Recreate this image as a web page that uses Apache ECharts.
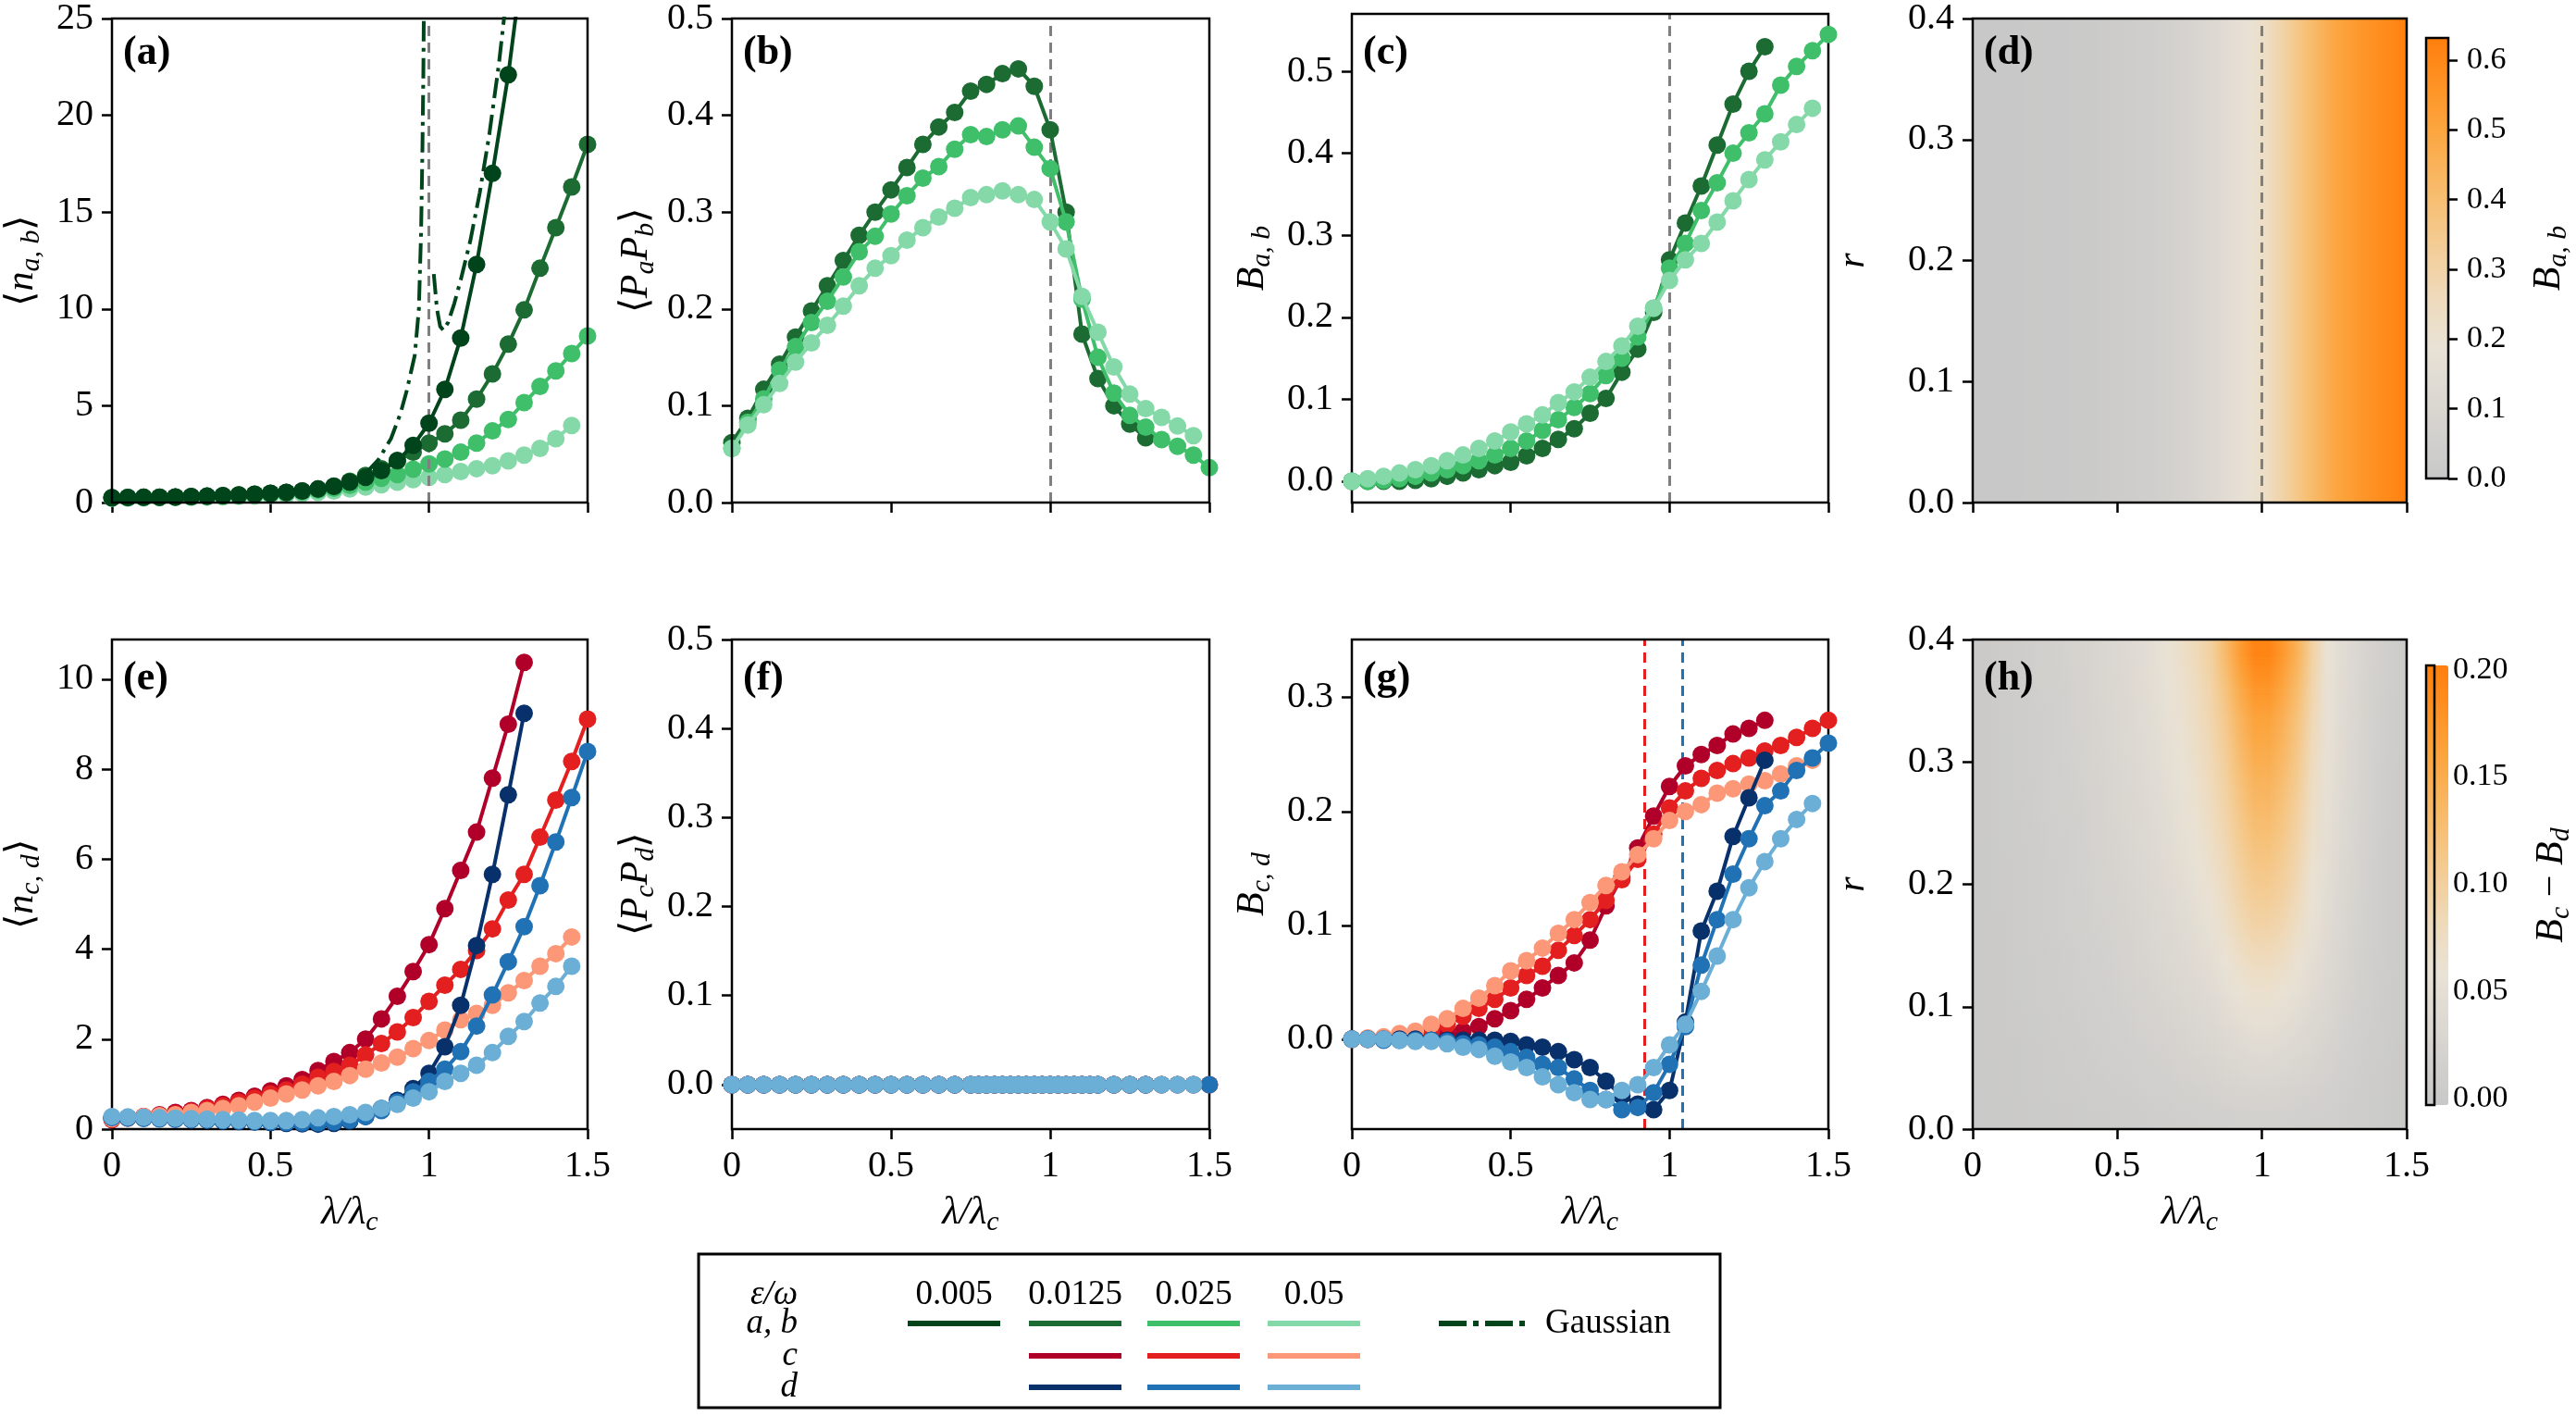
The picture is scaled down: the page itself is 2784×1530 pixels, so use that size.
<!DOCTYPE html>
<html>
<head>
<meta charset="utf-8">
<script src="https://cdn.jsdelivr.net/npm/echarts@6/dist/echarts.min.js"></script>
<style>
  html, body { margin: 0; padding: 0; background: #fff; }
  #main { width: 2784px; height: 1530px; }
</style>
</head>
<body>
<div id="main"></div>
<script>
const FONT = "'Liberation Serif', 'Times New Roman', serif";
const TICK_FS = 40;

// lambda / lambda_c grid used by the curves
const lam = [0, 0.05, 0.1, 0.15, 0.2, 0.25, 0.3, 0.35, 0.4, 0.45, 0.5, 0.55, 0.6, 0.65, 0.7, 0.75,
  0.8, 0.85, 0.9, 0.95, 1, 1.05, 1.1, 1.15, 1.2, 1.25, 1.3, 1.35, 1.4, 1.45, 1.5];

// (a) <n_a,b>
const na_005 = [0.25, 0.26, 0.27, 0.28, 0.29, 0.31, 0.33, 0.36, 0.39, 0.43, 0.48, 0.53, 0.60, 0.70, 0.84, 1.05,
  1.30, 1.65, 2.17, 2.95, 4.10, 5.84, 8.50, 12.3, 17.0, 22.1, 28.5];
const na_0125 = [0.25, 0.26, 0.27, 0.28, 0.29, 0.31, 0.33, 0.36, 0.39, 0.43, 0.48, 0.53, 0.60, 0.70, 0.85, 1.10,
  1.40, 1.75, 2.15, 2.60, 3.07, 3.55, 4.25, 5.34, 6.64, 8.18, 9.95, 12.1, 14.2, 16.3, 18.5];
const na_025 = [0.25, 0.26, 0.27, 0.28, 0.29, 0.30, 0.32, 0.34, 0.37, 0.41, 0.45, 0.50, 0.56, 0.64, 0.74, 0.88,
  1.05, 1.25, 1.45, 1.72, 2.00, 2.25, 2.60, 3.07, 3.70, 4.29, 5.16, 6.00, 6.80, 7.70, 8.60];
const na_05 = [0.22, 0.23, 0.24, 0.25, 0.26, 0.27, 0.28, 0.30, 0.32, 0.34, 0.37, 0.41, 0.46, 0.52, 0.60, 0.70,
  0.80, 0.92, 1.05, 1.18, 1.30, 1.45, 1.60, 1.75, 1.90, 2.15, 2.45, 2.80, 3.30, 3.98];
const gaussLeft = [[0.80, 1.5], [0.84, 2.2], [0.88, 3.3], [0.91, 4.6], [0.93, 5.8], [0.955, 7.6], [0.968, 10],
  [0.975, 14], [0.979, 18], [0.982, 22], [0.984, 26]];
const gaussRight = [[1.015, 11.8], [1.025, 10.0], [1.035, 9.1], [1.045, 8.9], [1.06, 9.3], [1.08, 10.3], [1.1, 11.5],
  [1.13, 13.5], [1.16, 16.0], [1.19, 19.0], [1.22, 22.6], [1.24, 25.5]];

// (b) <P_a P_b>
const pab_0125 = [0.062, 0.087, 0.117, 0.143, 0.171, 0.198, 0.224, 0.25, 0.276, 0.3, 0.323, 0.346, 0.37, 0.388,
  0.403, 0.425, 0.432, 0.443, 0.448, 0.43, 0.385, 0.3, 0.174, 0.128, 0.1, 0.081, 0.067];
const pab_025 = [0.056, 0.083, 0.107, 0.137, 0.161, 0.186, 0.208, 0.233, 0.259, 0.275, 0.298, 0.317, 0.335, 0.347,
  0.365, 0.38, 0.378, 0.385, 0.389, 0.367, 0.345, 0.29, 0.21, 0.15, 0.113, 0.09, 0.078, 0.065, 0.058, 0.049, 0.036];
const pab_05 = [0.056, 0.08, 0.101, 0.123, 0.145, 0.165, 0.183, 0.203, 0.224, 0.242, 0.255, 0.271, 0.284, 0.295,
  0.304, 0.315, 0.318, 0.322, 0.318, 0.313, 0.29, 0.262, 0.213, 0.176, 0.14, 0.112, 0.097, 0.088, 0.079, 0.069];

// (c) B_a,b
const bab_0125 = [0, 0, 0, 0, 0.001, 0.003, 0.006, 0.01, 0.014, 0.019, 0.023, 0.031, 0.04, 0.051, 0.064, 0.083,
  0.101, 0.133, 0.161, 0.206, 0.27, 0.315, 0.36, 0.41, 0.46, 0.5, 0.53];
const bab_025 = [0, 0, 0.001, 0.003, 0.006, 0.01, 0.014, 0.019, 0.025, 0.032, 0.04, 0.049, 0.062, 0.075, 0.09,
  0.107, 0.129, 0.15, 0.176, 0.211, 0.26, 0.29, 0.33, 0.364, 0.4, 0.425, 0.448, 0.483, 0.506, 0.525, 0.545];
const bab_05 = [0, 0.003, 0.006, 0.01, 0.014, 0.019, 0.025, 0.032, 0.04, 0.049, 0.06, 0.07, 0.081, 0.096, 0.109,
  0.127, 0.146, 0.165, 0.189, 0.211, 0.245, 0.27, 0.29, 0.316, 0.342, 0.368, 0.392, 0.414, 0.435, 0.455];

// (d) B_a,b map: one band covering all r, sampled along lambda
const dX = [0.0125, 0.0375, 0.0625, 0.0875, 0.1125, 0.1375, 0.1625, 0.1875, 0.2125, 0.2375, 0.2625, 0.2875,
  0.3125, 0.3375, 0.3625, 0.3875, 0.4125, 0.4375, 0.4625, 0.4875, 0.5125, 0.5375, 0.5625, 0.5875, 0.6125, 0.6375,
  0.6625, 0.6875, 0.7125, 0.7375, 0.7625, 0.7875, 0.8125, 0.8375, 0.8625, 0.8875, 0.9125, 0.9375, 0.9625, 0.9875,
  1.0125, 1.0375, 1.0625, 1.0875, 1.1125, 1.1375, 1.1625, 1.1875, 1.2125, 1.2375, 1.2625, 1.2875, 1.3125, 1.3375,
  1.3625, 1.3875, 1.4125, 1.4375, 1.4625, 1.4875];
const dR = [0.2];
const dBand = 0.4;
const dVals = [0.000, 0.000, 0.001, 0.001, 0.002, 0.002, 0.003, 0.004, 0.005, 0.006,
  0.007, 0.008, 0.010, 0.011, 0.013, 0.015, 0.017, 0.019, 0.022, 0.025,
  0.028, 0.031, 0.035, 0.040, 0.045, 0.050, 0.056, 0.063, 0.070, 0.078,
  0.087, 0.097, 0.108, 0.120, 0.133, 0.147, 0.162, 0.178, 0.195, 0.213,
  0.235, 0.262, 0.290, 0.320, 0.348, 0.375, 0.400, 0.430, 0.455, 0.480,
  0.500, 0.515, 0.530, 0.545, 0.558, 0.570, 0.582, 0.595, 0.608, 0.622];

// (e) <n_c,d>
const nc_0125 = [0.21, 0.25, 0.28, 0.32, 0.37, 0.41, 0.48, 0.55, 0.64, 0.73, 0.85, 0.96, 1.1, 1.3, 1.5, 1.7, 2.0,
  2.45, 2.95, 3.5, 4.1, 4.9, 5.75, 6.6, 7.8, 9.0, 10.37];
const nc_025 = [0.23, 0.25, 0.28, 0.3, 0.34, 0.39, 0.46, 0.52, 0.6, 0.69, 0.78, 0.87, 1.0, 1.15, 1.28, 1.42, 1.65,
  1.9, 2.16, 2.48, 2.84, 3.2, 3.55, 3.97, 4.45, 5.09, 5.66, 6.49, 7.31, 8.17, 9.11];
const nc_05 = [0.23, 0.25, 0.28, 0.3, 0.32, 0.37, 0.41, 0.46, 0.52, 0.6, 0.69, 0.78, 0.87, 0.96, 1.06, 1.19, 1.33,
  1.47, 1.6, 1.79, 1.97, 2.2, 2.43, 2.57, 2.75, 3.03, 3.3, 3.62, 3.9, 4.27];
const nd_0125 = [0.26, 0.25, 0.24, 0.23, 0.22, 0.21, 0.2, 0.18, 0.17, 0.16, 0.15, 0.13, 0.12, 0.11, 0.13, 0.18,
  0.28, 0.46, 0.64, 0.9, 1.24, 1.83, 2.75, 4.08, 5.66, 7.43, 9.24];
const nd_025 = [0.26, 0.25, 0.24, 0.23, 0.22, 0.21, 0.2, 0.19, 0.18, 0.17, 0.16, 0.15, 0.14, 0.14, 0.16, 0.2, 0.28,
  0.41, 0.6, 0.83, 1.06, 1.33, 1.72, 2.29, 2.98, 3.72, 4.5, 5.41, 6.38, 7.37, 8.39];
const nd_05 = [0.28, 0.27, 0.26, 0.25, 0.24, 0.23, 0.22, 0.21, 0.2, 0.19, 0.19, 0.19, 0.21, 0.25, 0.28, 0.32, 0.37,
  0.46, 0.55, 0.69, 0.83, 1.06, 1.24, 1.42, 1.7, 2.06, 2.39, 2.8, 3.17, 3.62];

// (f) <P_c P_d>: finer lambda grid, all values zero
const fX = [0, 0.05, 0.1, 0.15, 0.2, 0.25, 0.3, 0.35, 0.4, 0.45, 0.5, 0.55, 0.6, 0.65, 0.7, 0.75, 0.775, 0.8,
  0.825, 0.85, 0.875, 0.9, 0.925, 0.95, 0.975, 1, 1.025, 1.05, 1.075, 1.1, 1.125, 1.15, 1.2, 1.25, 1.3, 1.35, 1.4,
  1.45, 1.5];
const pcd = [0, 0, 0, 0, 0, 0, 0, 0, 0, 0, 0, 0, 0, 0, 0, 0, 0, 0, 0, 0, 0, 0, 0, 0, 0, 0, 0, 0, 0, 0, 0, 0, 0, 0,
  0, 0, 0, 0, 0];

// (g) B_c,d
const bc_0125 = [0, 0, 0, 0, 0.001, 0.002, 0.005, 0.007, 0.011, 0.018, 0.025, 0.035, 0.045, 0.056, 0.067, 0.087,
  0.117, 0.142, 0.168, 0.196, 0.222, 0.24, 0.25, 0.258, 0.268, 0.273, 0.28];
const bc_025 = [0, 0, 0.001, 0.002, 0.004, 0.007, 0.013, 0.02, 0.027, 0.035, 0.045, 0.056, 0.064, 0.078, 0.091,
  0.105, 0.122, 0.14, 0.158, 0.18, 0.203, 0.218, 0.229, 0.236, 0.242, 0.247, 0.253, 0.258, 0.265, 0.273, 0.28];
const bc_05 = [0, 0.001, 0.002, 0.005, 0.007, 0.013, 0.018, 0.027, 0.036, 0.047, 0.06, 0.069, 0.08, 0.093, 0.105,
  0.12, 0.135, 0.147, 0.162, 0.176, 0.192, 0.2, 0.206, 0.216, 0.22, 0.224, 0.227, 0.233, 0.24, 0.245];
const bd_0125 = [0, 0, 0, 0, 0, -0.001, -0.001, -0.001, -0.001, -0.001, -0.002, -0.005, -0.007, -0.011, -0.018,
  -0.025, -0.037, -0.05, -0.057, -0.062, -0.045, 0.015, 0.095, 0.13, 0.178, 0.212, 0.245];
const bd_025 = [0, 0, -0.001, -0.001, -0.001, -0.001, -0.002, -0.004, -0.005, -0.007, -0.011, -0.016, -0.022,
  -0.025, -0.035, -0.045, -0.053, -0.062, -0.06, -0.047, -0.022, 0.011, 0.065, 0.105, 0.145, 0.176, 0.205, 0.218,
  0.236, 0.247, 0.26];
const bd_05 = [0, 0, 0, -0.001, -0.002, -0.002, -0.004, -0.007, -0.009, -0.015, -0.02, -0.025, -0.033, -0.04,
  -0.047, -0.053, -0.053, -0.045, -0.04, -0.025, -0.005, 0.013, 0.042, 0.073, 0.105, 0.133, 0.156, 0.176, 0.193,
  0.207];
const critical = [0.917, 1.044];

// (h) B_c - B_d map: rows of r (bottom to top), sampled along lambda
const hX = [0.025, 0.075, 0.125, 0.175, 0.225, 0.275, 0.325, 0.375, 0.425, 0.475, 0.525, 0.575, 0.625, 0.675,
  0.725, 0.775, 0.825, 0.875, 0.925, 0.975, 1.025, 1.075, 1.125, 1.175, 1.225, 1.275, 1.325, 1.375, 1.425, 1.475];
const hR = [0.0125, 0.0375, 0.0625, 0.0875, 0.1125, 0.1375, 0.1625, 0.1875, 0.2125, 0.2375, 0.2625, 0.2875,
  0.3125, 0.3375, 0.3625, 0.3875];
const hBand = 0.025;
const hRows = [
  [.000,.001,.001,.002,.003,.003,.004,.005,.006,.007,.008,.009,.010,.011,.012,.013,.015,.016,.017,.018,.018,.017,.016,.014,.012,.010,.008,.005,.003,.001],
  [.001,.001,.002,.003,.004,.005,.006,.007,.008,.010,.011,.013,.015,.016,.018,.020,.022,.025,.027,.028,.028,.026,.024,.021,.018,.014,.011,.007,.004,.002],
  [.001,.002,.002,.003,.004,.006,.007,.008,.010,.012,.014,.016,.018,.020,.023,.026,.029,.033,.037,.040,.040,.037,.033,.028,.023,.018,.013,.009,.005,.002],
  [.001,.002,.003,.004,.005,.007,.008,.010,.012,.014,.016,.019,.021,.024,.027,.031,.035,.041,.047,.051,.051,.047,.042,.035,.028,.022,.016,.011,.006,.003],
  [.001,.002,.003,.005,.006,.008,.010,.012,.014,.016,.019,.022,.025,.028,.032,.036,.042,.050,.059,.065,.065,.060,.051,.041,.033,.025,.018,.012,.007,.003],
  [.001,.002,.004,.005,.007,.009,.011,.013,.016,.018,.021,.024,.028,.032,.036,.041,.048,.058,.070,.079,.079,.072,.060,.047,.037,.028,.020,.013,.008,.003],
  [.001,.002,.004,.006,.008,.010,.012,.015,.017,.020,.023,.027,.031,.035,.040,.046,.055,.067,.082,.092,.092,.084,.070,.053,.041,.031,.022,.015,.008,.004],
  [.001,.003,.004,.006,.008,.010,.013,.016,.019,.022,.025,.029,.033,.038,.044,.051,.061,.075,.092,.104,.104,.095,.080,.058,.044,.033,.024,.016,.009,.004],
  [.001,.003,.004,.006,.009,.011,.014,.017,.020,.023,.027,.031,.036,.041,.048,.056,.067,.082,.100,.113,.113,.103,.086,.062,.047,.035,.025,.016,.009,.004],
  [.002,.003,.005,.007,.009,.012,.014,.017,.021,.024,.028,.032,.038,.044,.051,.060,.073,.088,.108,.123,.123,.111,.093,.067,.049,.037,.026,.017,.009,.004],
  [.002,.003,.005,.007,.010,.012,.015,.018,.022,.026,.030,.034,.040,.046,.054,.064,.078,.094,.116,.133,.133,.119,.099,.071,.051,.038,.027,.018,.010,.004],
  [.002,.003,.005,.008,.010,.013,.016,.019,.023,.027,.031,.036,.042,.049,.057,.068,.082,.100,.124,.143,.143,.128,.106,.075,.053,.040,.028,.018,.010,.004],
  [.002,.003,.005,.008,.011,.014,.017,.020,.024,.028,.033,.038,.044,.051,.060,.072,.086,.106,.133,.153,.153,.137,.113,.080,.055,.041,.029,.019,.011,.005],
  [.002,.004,.006,.008,.011,.014,.017,.021,.025,.029,.034,.040,.046,.054,.063,.075,.090,.113,.142,.163,.163,.145,.120,.085,.056,.042,.030,.020,.011,.005],
  [.002,.004,.006,.009,.012,.015,.018,.022,.026,.030,.035,.041,.048,.056,.066,.078,.094,.122,.155,.178,.178,.158,.130,.090,.057,.043,.031,.020,.012,.005],
  [.002,.004,.006,.009,.012,.015,.019,.023,.027,.031,.036,.042,.050,.059,.070,.083,.100,.133,.170,.196,.195,.172,.142,.096,.058,.044,.032,.021,.012,.005]
];

// tick labels
const xTicks = [0, 0.5, 1, 1.5];
const aTicks = [0, 5, 10, 15, 20, 25];
const bTicks = [0, 0.1, 0.2, 0.3, 0.4, 0.5];
const cTicks = [0, 0.1, 0.2, 0.3, 0.4, 0.5];
const rTicks = [0, 0.1, 0.2, 0.3, 0.4];
const eTicks = [0, 2, 4, 6, 8, 10];
const gTicks = [0, 0.1, 0.2, 0.3];
const dBarTicks = [0, 0.1, 0.2, 0.3, 0.4, 0.5, 0.6];
const hBarTicks = [0, 0.05, 0.1, 0.15, 0.2];
const dRange = [0, 0.632];
const hRange = [-0.003, 0.202];
const epsLabels = ['0.005', '0.0125', '0.025', '0.05'];

const GREEN = ['#00441b', '#1b6b32', '#40bf6b', '#85d9a9'];
const RED = ['#b0002a', '#e3201f', '#fc9777'];
const BLUE = ['#08306b', '#2171b5', '#6baed6'];
const CMAP = ['#c8c8c8', '#d3d1ce', '#ded9d2', '#e9e2d5', '#eedbbe', '#f2d09f', '#f6c37d', '#f9b45d',
  '#fca43d', '#fe9122', '#ff7f0e'];

const RICH = {
  b: { fontFamily: FONT, fontSize: 42, lineHeight: 50, color: '#000' },
  i: { fontFamily: FONT, fontSize: 42, fontStyle: 'italic', lineHeight: 50, color: '#000' },
  s: { fontFamily: FONT, fontSize: 30, fontStyle: 'italic', lineHeight: 22, verticalAlign: 'bottom', color: '#000' }
};

// panel boxes [left, top, width, height]
const boxes = [
  [121, 15, 514, 528], [791, 15, 516, 528], [1461, 15, 515, 528], [2132, 15, 469, 528],
  [121, 691, 514, 529], [791, 691, 516, 529], [1461, 691, 515, 529], [2132, 691, 469, 529]
];
const barBoxes = [[2622, 41, 24, 476], [2622, 719, 24, 475]];

const pts = (xs, ys) => ys.map((y, i) => [xs[i], y]);

const frame = { show: true, borderColor: '#000', borderWidth: 2.5, backgroundColor: 'transparent', z: 10 };
const grid = boxes.concat(barBoxes).map(([l, t, w, h]) => Object.assign({ left: l, top: t, width: w, height: h }, frame));

const tickStyle = { color: '#000', width: 2.5 };

function xAx(gi, labels) {
  return {
    type: 'value', gridIndex: gi, min: 0, max: 1.5,
    axisLine: { show: false, onZero: false }, splitLine: { show: false },
    axisTick: { show: true, length: 11, customValues: xTicks, lineStyle: tickStyle },
    axisLabel: { show: labels, margin: 20, customValues: xTicks, color: '#000', fontFamily: FONT, fontSize: TICK_FS },
    name: labels ? '{i|λ/λ}{s|c}' : '', nameLocation: 'middle', nameGap: 66,
    nameTextStyle: { rich: RICH }
  };
}

function yAx(gi, min, max, ticks, dec, name, gap) {
  return {
    type: 'value', gridIndex: gi, min, max,
    axisLine: { show: false, onZero: false }, splitLine: { show: false },
    axisTick: { show: true, length: 11, customValues: ticks, lineStyle: tickStyle },
    axisLabel: { margin: 20, customValues: ticks, color: '#000', fontFamily: FONT, fontSize: TICK_FS,
      formatter: v => v.toFixed(dec) },
    name, nameLocation: 'middle', nameGap: gap, nameTextStyle: { rich: RICH }
  };
}

function barAx(gi, range, ticks, dec, name, gap) {
  const ax = yAx(gi, range[0], range[1], ticks, dec, name, gap);
  ax.position = 'right';
  ax.axisLabel.fontSize = 34;
  ax.axisTick.length = 10;
  return ax;
}

const xAxis = [
  xAx(0, false), xAx(1, false), xAx(2, false), xAx(3, false),
  xAx(4, true), xAx(5, true), xAx(6, true), xAx(7, true),
  { type: 'value', gridIndex: 8, show: false },
  { type: 'value', gridIndex: 9, show: false }
];
const yAxis = [
  yAx(0, 0, 25, aTicks, 0, '{b|⟨}{i|n}{s|a, b}{b|⟩}', 72),
  yAx(1, 0, 0.5, bTicks, 1, '{b|⟨}{i|P}{s|a}{i|P}{s|b}{b|⟩}', 78),
  yAx(2, -0.026, 0.570, cTicks, 1, '{i|B}{s|a, b}', 82),
  yAx(3, 0, 0.4, rTicks, 1, '{i|r}', 104),
  yAx(4, 0, 10.88, eTicks, 0, '{b|⟨}{i|n}{s|c, d}{b|⟩}', 72),
  yAx(5, -0.05, 0.5, bTicks, 1, '{b|⟨}{i|P}{s|c}{i|P}{s|d}{b|⟩}', 78),
  yAx(6, -0.079, 0.351, gTicks, 1, '{i|B}{s|c, d}', 82),
  yAx(7, 0, 0.4, rTicks, 1, '{i|r}', 104),
  barAx(8, dRange, dBarTicks, 1, '{i|B}{s|a, b}', 84),
  barAx(9, hRange, hBarTicks, 2, '{i|B}{s|c}{b| − }{i|B}{s|d}', 102)
];

let zc = 3;
function curve(gi, xs, ys, color) {
  return {
    type: 'line', xAxisIndex: gi, yAxisIndex: gi, data: pts(xs, ys),
    symbol: 'circle', symbolSize: 19, showSymbol: true,
    itemStyle: { color }, lineStyle: { color, width: 4 },
    z: zc++, silent: true, clip: true, emphasis: { disabled: true }
  };
}
function gauss(data) {
  return {
    type: 'line', xAxisIndex: 0, yAxisIndex: 0, data, symbol: 'none', showSymbol: false,
    lineStyle: { color: GREEN[0], width: 4, type: [22, 7, 4, 7] },
    z: 30, silent: true, clip: true
  };
}
function vline(gi, xs, colors) {
  return {
    type: 'line', xAxisIndex: gi, yAxisIndex: gi, data: [], z: 40, silent: true,
    markLine: {
      silent: true, symbol: ['none', 'none'], label: { show: false }, animation: false,
      data: xs.map((x, k) => ({ xAxis: x, lineStyle: { color: colors[k], width: 3, type: [11, 7] } }))
    }
  };
}

// colour map drawn like imshow with bilinear smoothing: each r row is a horizontal
// gradient through its lambda samples; between two rows the upper one is faded in.
const STRIPS = 10;
function bands(id, gi, rs, band, xs, rows, range) {
  const grad = row => new echarts.graphic.LinearGradient(0, 0, 1, 0, xs.map((x, i) => ({
    offset: x / 1.5,
    color: echarts.color.lerp((row[i] - range[0]) / (range[1] - range[0]), CMAP)
  })));
  return {
    id, type: 'custom', xAxisIndex: gi, yAxisIndex: gi, z: 1, silent: true,
    data: rows.map((row, j) => [rs[j]].concat(row)),
    renderItem(params, api) {
      const j = params.dataIndex;
      const last = rows.length - 1;
      const x0 = api.coord([0, 0])[0];
      const x1 = api.coord([1.5, 0])[0];
      const py = v => api.coord([0, v])[1];
      const rect = (a, b, fill, opacity) => ({
        type: 'rect',
        shape: { x: x0, y: py(b) - 0.5, width: x1 - x0, height: py(a) - py(b) + 1 },
        style: { fill, opacity }
      });
      const children = [];
      if (j === 0) children.push(rect(rs[0] - band / 2, rs[0], grad(rows[0]), 1));
      if (j === last) {
        children.push(rect(rs[j], rs[j] + band / 2, grad(rows[j]), 1));
      } else {
        const lo = rs[j], hi = rs[j + 1];
        for (let k = 0; k < STRIPS; k++) {
          const a = lo + (hi - lo) * k / STRIPS;
          const b = lo + (hi - lo) * (k + 1) / STRIPS;
          children.push(rect(a, b, grad(rows[j]), 1));
          children.push(rect(a, b, grad(rows[j + 1]), (k + 0.5) / STRIPS));
        }
      }
      return { type: 'group', children };
    }
  };
}

const series = [
  // (a)
  curve(0, lam, na_05, GREEN[3]), curve(0, lam, na_025, GREEN[2]),
  curve(0, lam, na_0125, GREEN[1]), curve(0, lam, na_005, GREEN[0]),
  gauss(gaussLeft), gauss(gaussRight),
  vline(0, [1], ['#7f7f7f']),
  // (b)
  curve(1, lam, pab_0125, GREEN[1]), curve(1, lam, pab_025, GREEN[2]), curve(1, lam, pab_05, GREEN[3]),
  vline(1, [1], ['#7f7f7f']),
  // (c)
  curve(2, lam, bab_0125, GREEN[1]), curve(2, lam, bab_025, GREEN[2]), curve(2, lam, bab_05, GREEN[3]),
  vline(2, [1], ['#7f7f7f']),
  // (d)
  bands('dmap', 3, dR, dBand, dX, [dVals], dRange),
  vline(3, [1], ['#7f7f7f']),
  // (e)
  curve(4, lam, nc_0125, RED[0]), curve(4, lam, nc_025, RED[1]), curve(4, lam, nc_05, RED[2]),
  curve(4, lam, nd_0125, BLUE[0]), curve(4, lam, nd_025, BLUE[1]), curve(4, lam, nd_05, BLUE[2]),
  // (f)
  curve(5, fX, pcd.slice(0, 35), RED[0]), curve(5, fX, pcd, RED[1]), curve(5, fX, pcd.slice(0, 38), RED[2]),
  curve(5, fX, pcd.slice(0, 35), BLUE[0]), curve(5, fX, pcd, BLUE[1]), curve(5, fX, pcd.slice(0, 38), BLUE[2]),
  // (g)
  curve(6, lam, bc_0125, RED[0]), curve(6, lam, bc_025, RED[1]), curve(6, lam, bc_05, RED[2]),
  curve(6, lam, bd_0125, BLUE[0]), curve(6, lam, bd_025, BLUE[1]), curve(6, lam, bd_05, BLUE[2]),
  vline(6, critical, [RED[1], BLUE[1]]),
  // (h)
  bands('hmap', 7, hR, hBand, hX, hRows, hRange)
];
const iD = series.findIndex(s => s.id === 'dmap');
const iH = series.findIndex(s => s.id === 'hmap');

const visualMap = [
  { type: 'continuous', seriesIndex: iD, dimension: 1, min: dRange[0], max: dRange[1], inRange: { color: CMAP },
    calculable: false, show: true, left: barBoxes[0][0], top: barBoxes[0][1], itemWidth: barBoxes[0][2],
    itemHeight: barBoxes[0][3], padding: 0, text: null, hoverLink: false },
  { type: 'continuous', seriesIndex: iH, dimension: 1, min: hRange[0], max: hRange[1], inRange: { color: CMAP },
    calculable: false, show: true, left: barBoxes[1][0], top: barBoxes[1][1], itemWidth: barBoxes[1][2],
    itemHeight: barBoxes[1][3], padding: 0, text: null, hoverLink: false }
];

// panel letters and the legend table
const graphic = [];
'abcdefgh'.split('').forEach((c, k) => {
  graphic.push({ type: 'text', x: boxes[k][0] + 12, y: boxes[k][1] + 43, z: 50, silent: true,
    style: { text: '(' + c + ')', font: 'bold 44px ' + FONT, fill: '#000', align: 'left', verticalAlign: 'middle' } });
});

const LG = { fs: 37, labelX: 862, rowY: [1399, 1430, 1465, 1499], colX: [1031, 1162, 1290, 1420], half: 50 };
const lgRich = { i: { fontFamily: FONT, fontSize: LG.fs, fontStyle: 'italic', fill: '#000' } };
graphic.push({ type: 'rect', z: 40, silent: true, shape: { x: 755, y: 1355, width: 1104, height: 166 },
  style: { fill: '#fff', stroke: '#000', lineWidth: 3 } });
['{i|ε/ω}', '{i|a, b}', '{i|c}', '{i|d}'].forEach((t, k) => {
  graphic.push({ type: 'text', x: LG.labelX, y: LG.rowY[k], z: 42, silent: true,
    style: { text: t, rich: lgRich, align: 'right', verticalAlign: 'middle', fill: '#000' } });
});
epsLabels.forEach((t, k) => {
  graphic.push({ type: 'text', x: LG.colX[k], y: LG.rowY[0], z: 42, silent: true,
    style: { text: t, font: LG.fs + 'px ' + FONT, fill: '#000', align: 'center', verticalAlign: 'middle' } });
});
function lgLine(col, row, color, dash) {
  graphic.push({ type: 'line', z: 42, silent: true,
    shape: { x1: col - LG.half, y1: LG.rowY[row], x2: col + LG.half, y2: LG.rowY[row] },
    style: { stroke: color, lineWidth: 6, lineDash: dash || null } });
}
GREEN.forEach((c, k) => lgLine(LG.colX[k], 1, c));
RED.forEach((c, k) => lgLine(LG.colX[k + 1], 2, c));
BLUE.forEach((c, k) => lgLine(LG.colX[k + 1], 3, c));
lgLine(1605, 1, GREEN[0], [30, 7, 6, 7]);
graphic.push({ type: 'text', x: 1670, y: LG.rowY[1], z: 42, silent: true,
  style: { text: 'Gaussian', font: LG.fs + 'px ' + FONT, fill: '#000', align: 'left', verticalAlign: 'middle' } });

const chart = echarts.init(document.getElementById('main'));
chart.setOption({
  animation: false,
  backgroundColor: '#fff',
  textStyle: { fontFamily: FONT },
  grid, xAxis, yAxis, series, visualMap, graphic
});
</script>
</body>
</html>
